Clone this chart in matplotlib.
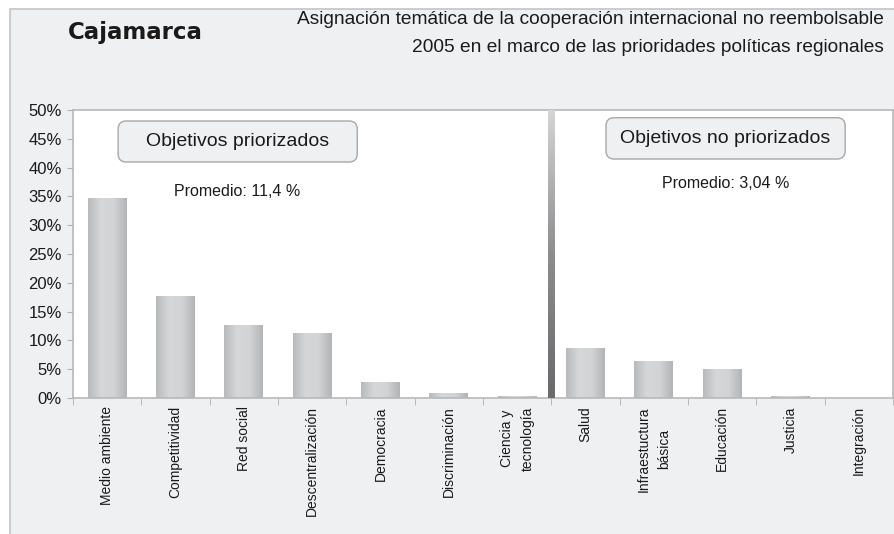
import numpy as np
import matplotlib.pyplot as plt
from matplotlib.patches import Rectangle, FancyBboxPatch
from matplotlib.colors import LinearSegmentedColormap

categorias = ["Medio ambiente", "Competitividad", "Red social", "Descentralización",
              "Democracia", "Discriminación", "Ciencia y\ntecnología",
              "Salud", "Infraestuctura\nbásica", "Educación", "Justicia", "Integración"]
valores = [34.8, 17.7, 12.7, 11.3, 2.8, 0.9, 0.3, 8.7, 6.4, 5.0, 0.3, 0.0]
n_priorizados = 7
promedio_prior = "Promedio: 11,4 %"
promedio_noprior = "Promedio: 3,04 %"

narrow = ["Liberation Sans Narrow", "Liberation Sans", "DejaVu Sans"]
sans = ["Liberation Sans", "DejaVu Sans"]
plt.rcParams["font.family"] = sans

fig = plt.figure(figsize=(8.95, 5.34), dpi=100)
fig.patch.set_facecolor("white")
fig.patches.append(Rectangle((10 / 895, -0.01), 1.0, 1 - 9 / 534 + 0.01,
                             transform=fig.transFigure, facecolor="#eff0f2",
                             edgecolor="#c4c4c4", linewidth=1.2, zorder=-5))

ax = fig.add_axes([73 / 895, 136 / 534, 820 / 895, 288 / 534])
ax.set_zorder(1)
ax.set_facecolor("white")

x = np.arange(len(categorias))
bars = ax.bar(x, valores, width=0.57, color="#c6c7c9", edgecolor="none", zorder=2)

# horizontal grey gradient for bars
grad = LinearSegmentedColormap.from_list("g", ["#b9babc", "#d6d7d9", "#d2d3d5", "#b3b4b6"])
img = np.linspace(0, 1, 64).reshape(1, -1)
for b in bars:
    if b.get_height() <= 0:
        continue
    im = ax.imshow(img, cmap=grad, aspect="auto", zorder=2,
                   extent=[b.get_x(), b.get_x() + b.get_width(), 0, b.get_height()])
    im.set_clip_path(b)

# vertical divider between the two groups
div_cmap = LinearSegmentedColormap.from_list("d", ["#d4d4d5", "#8d8d90", "#6a6a6d"])
vimg = np.linspace(0, 1, 64).reshape(-1, 1)
xd = n_priorizados - 0.5
ax.imshow(vimg, cmap=div_cmap, aspect="auto", zorder=3, origin="upper",
          extent=[xd - 0.045, xd + 0.045, 0, 50])

ax.set_xlim(-0.5, len(categorias) - 0.5)
ax.set_ylim(0, 50)
ax.set_yticks(np.arange(0, 51, 5))
ax.set_yticklabels([f"{v}%" for v in range(0, 51, 5)], fontsize=12, color="#1a1a1a")
ax.set_xticks(x)
ax.set_xticklabels(categorias, rotation=90, fontsize=10, color="#1a1a1a",
                   va="top", ha="center", multialignment="center", linespacing=1.6)
ax.set_xticks(np.arange(-0.5, len(categorias), 1), minor=True)
ax.tick_params(axis="x", which="major", length=0, pad=6)
ax.tick_params(axis="x", which="minor", length=5, color="#b0b0b0")
ax.tick_params(axis="y", length=4, color="#b0b0b0", pad=4)
for s in ax.spines.values():
    s.set_color("#b8b8b8")
    s.set_linewidth(1.2)

# rounded label boxes (data coords, aspect corrected for rounding)
asp = (820 / 12) / (288 / 50)
for (x0, x1, y0, y1, txt) in [(0.16, 3.66, 40.97, 48.09, "Objetivos priorizados"),
                              (7.30, 10.80, 41.49, 48.66, "Objetivos no priorizados")]:
    ax.add_patch(FancyBboxPatch((x0, y0), x1 - x0, y1 - y0,
                                boxstyle="round,pad=0,rounding_size=0.12",
                                mutation_aspect=asp, facecolor="#eff0f2",
                                edgecolor="#a8a8a8", linewidth=1, zorder=4))
    ax.text((x0 + x1) / 2, (y0 + y1) / 2, txt, ha="center", va="center",
            fontsize=14, color="#1a1a1a", zorder=5)

ax.text(1.907, 35.8, promedio_prior, ha="center", va="center",
        fontsize=11.5, family=narrow, color="#1a1a1a", zorder=4)
ax.text(9.05, 37.3, promedio_noprior, ha="center", va="center",
        fontsize=11.5, family=narrow, color="#1a1a1a", zorder=4)

fig.text(135 / 895, 1 - 32 / 534, "Cajamarca", ha="center", va="center",
         fontsize=16.5, fontweight="bold", family=["DejaVu Sans"], color="#1a1a1a")
fig.text(884 / 895, 1 - 20 / 534, "Asignación temática de la cooperación internacional no reembolsable",
         ha="right", va="center", fontsize=13.8, family=narrow, color="#1a1a1a")
fig.text(884 / 895, 1 - 47 / 534, "2005 en el marco de las prioridades políticas regionales",
         ha="right", va="center", fontsize=13.8, family=narrow, color="#1a1a1a")

fig.savefig("out.png", dpi=100, facecolor=fig.get_facecolor())
plt.close()
